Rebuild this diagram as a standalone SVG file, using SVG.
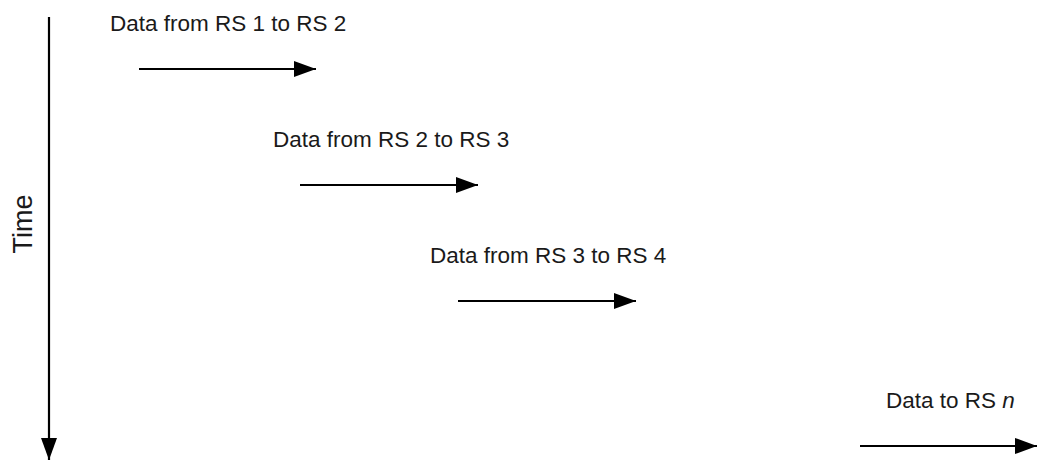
<svg xmlns="http://www.w3.org/2000/svg" width="1039" height="462" viewBox="0 0 1039 462">
<style>
.lbl{font-family:"Liberation Sans",Arial,sans-serif;font-size:22.5px;fill:#1a1a1a}
.edge{stroke:#000;stroke-width:2.2;fill:none}
</style>
<defs>
<marker id="ah" markerUnits="userSpaceOnUse" markerWidth="22" markerHeight="16" refX="22" refY="8" orient="auto" viewBox="0 0 22 16">
<path d="M0,0 L22,8 L0,16 z" fill="#000"/>
</marker>
</defs>
<rect width="1039" height="462" fill="#fff"/>
<g id="connectors">
<line class="edge" x1="49" y1="17" x2="49" y2="460" marker-end="url(#ah)"/>
<line class="edge" x1="139" y1="69" x2="316" y2="69" marker-end="url(#ah)"/>
<line class="edge" x1="300" y1="185" x2="478" y2="185" marker-end="url(#ah)"/>
<line class="edge" x1="458" y1="301" x2="636" y2="301" marker-end="url(#ah)"/>
<line class="edge" x1="860" y1="446" x2="1037" y2="446" marker-end="url(#ah)"/>
</g>
<g id="time-label"><text class="lbl" style="font-size:27px" transform="translate(32,224) rotate(-90)" text-anchor="middle">Time</text></g>
<g id="label1"><text class="lbl" x="110" y="31">Data from RS 1 to RS 2</text></g>
<g id="label2"><text class="lbl" x="273" y="147">Data from RS 2 to RS 3</text></g>
<g id="label3"><text class="lbl" x="430" y="263">Data from RS 3 to RS 4</text></g>
<g id="label4"><text class="lbl" x="886" y="408">Data to RS <tspan font-style="italic">n</tspan></text></g>
</svg>
